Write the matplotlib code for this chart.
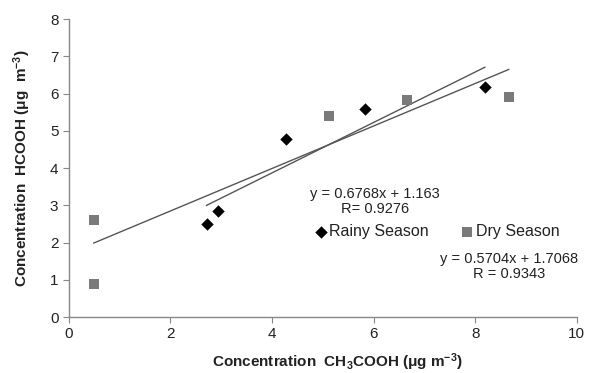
import matplotlib
matplotlib.use("Agg")
import matplotlib.pyplot as plt
import numpy as np

plt.rcParams['font.family'] = ['Liberation Sans', 'DejaVu Sans']
plt.rcParams['mathtext.fontset'] = 'custom'
plt.rcParams['mathtext.rm'] = 'Liberation Sans'
plt.rcParams['mathtext.bf'] = 'Liberation Sans:bold'
plt.rcParams['mathtext.default'] = 'bf'

rainy_x = [2.71, 2.94, 4.28, 5.83, 8.19]
rainy_y = [2.49, 2.84, 4.77, 5.58, 6.17]
dry_x = [0.49, 0.49, 5.13, 6.66, 8.66]
dry_y = [2.61, 0.88, 5.39, 5.82, 5.90]

rainy_fit = (0.6768, 1.163)
dry_fit = (0.5704, 1.7068)
rainy_eq = ["y = 0.6768x + 1.163", "R= 0.9276"]
dry_eq = ["y = 0.5704x + 1.7068", "R = 0.9343"]

x_ticks = [0, 2, 4, 6, 8, 10]
y_ticks = [0, 1, 2, 3, 4, 5, 6, 7, 8]

fig = plt.figure(figsize=(6.04, 3.73), dpi=100)
ax = fig.add_axes([0.114, 0.150, 0.841, 0.799])

spine_col = '#888888'
line_col = '#555555'

xr = np.array([min(rainy_x), max(rainy_x)])
ax.plot(xr, rainy_fit[0] * xr + rainy_fit[1], color=line_col, lw=1.0, zorder=2)
xd = np.array([min(dry_x), max(dry_x)])
ax.plot(xd, dry_fit[0] * xd + dry_fit[1], color=line_col, lw=1.0, zorder=2)

h1 = ax.scatter(rainy_x, rainy_y, marker='D', s=40, color='black', zorder=3,
                label='Rainy Season', linewidths=0)
h2 = ax.scatter(dry_x, dry_y, marker='s', s=44, color='#7a7a7a', zorder=3,
                label='Dry Season', linewidths=0)

ax.set_xlim(0, 10)
ax.set_ylim(0, 8)
ax.set_xticks(x_ticks)
ax.set_yticks(y_ticks)
ax.tick_params(axis='both', labelsize=11, color=spine_col, length=4,
               direction='out', labelcolor='#222222')
for s in ['top', 'right']:
    ax.spines[s].set_visible(False)
for s in ['left', 'bottom']:
    ax.spines[s].set_color(spine_col)
    ax.spines[s].set_linewidth(1.0)

ax.set_xlabel(r"Concentration  CH$_3$COOH (μg m$^{-3}$)", fontsize=11,
              fontweight='bold', color='#222222')
ax.xaxis.set_label_coords(0.528, -0.115)
ax.set_ylabel(r"Concentration  HCOOH (μg  m$^{-3}$)", fontsize=11,
              fontweight='bold', color='#222222', labelpad=12)

ax.text(6.03, 3.29, rainy_eq[0], ha='center', va='center', fontsize=10.5, color='#222222')
ax.text(6.03, 2.90, rainy_eq[1], ha='center', va='center', fontsize=10.5, color='#222222')
ax.text(8.67, 1.56, dry_eq[0], ha='center', va='center', fontsize=10.5, color='#222222')
ax.text(8.67, 1.16, dry_eq[1], ha='center', va='center', fontsize=10.5, color='#222222')

leg = ax.legend(handles=[h1, h2], loc='center left', bbox_to_anchor=(4.80, 2.29),
                bbox_transform=ax.transData, ncol=2, frameon=False, fontsize=11.5,
                handletextpad=0.05, columnspacing=1.9, handlelength=1.0,
                borderpad=0, borderaxespad=0, markerscale=1.0)
for t in leg.get_texts():
    t.set_color('#222222')

fig.savefig('out.png', dpi=100)
